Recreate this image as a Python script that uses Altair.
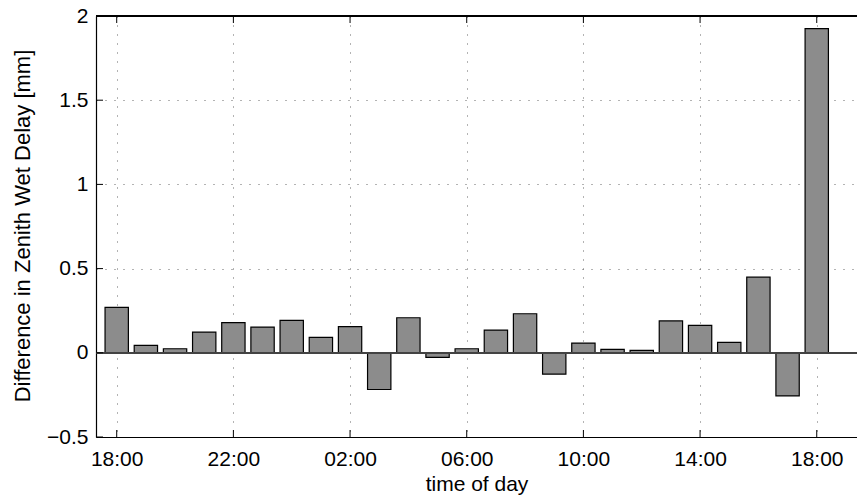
import altair as alt
import pandas as pd

# Hours after 18:00 (0 = 18:00 on day one, 24 = 18:00 the next day)
hours = list(range(25))
zwd_diff = [0.270, 0.044, 0.024, 0.123, 0.179, 0.153, 0.193, 0.092, 0.155,
            -0.218, 0.208, -0.027, 0.024, 0.135, 0.232, -0.127, 0.058, 0.020,
            0.014, 0.189, 0.163, 0.062, 0.449, -0.256, 1.925]
x_ticks = [0, 4, 8, 12, 16, 20, 24]
y_ticks = [-0.5, 0, 0.5, 1, 1.5, 2]

W, H = 761, 421
FONT = "Liberation Sans"

bars_df = pd.DataFrame({"h": hours, "v": zwd_diff})
xt_df = pd.DataFrame({"h": x_ticks})
yt_df = pd.DataFrame({"v": y_ticks})

xscale = alt.Scale(domain=[-0.71, 25.38], nice=False, zero=False)
yscale = alt.Scale(domain=[-0.5, 2], nice=False, zero=False)

label_expr = ("(((18 + datum.value) % 24) < 10 ? '0' : '') + "
              "((18 + datum.value) % 24) + ':00'")

x_axis = alt.Axis(values=x_ticks, labelExpr=label_expr, title="time of day",
                  grid=True, ticks=False, labelPadding=11, titlePadding=4)
y_axis = alt.Axis(values=y_ticks, format="~g",
                  title="Difference in Zenith Wet Delay [mm]", titleFontSize=22,
                  grid=True, ticks=False, labelPadding=8,
                  titleX=-74, titleY=H / 2 - 1, titleBaseline="middle")


def X(field):
    return alt.X(field, type="quantitative", scale=xscale, axis=x_axis)


def Y(field):
    return alt.Y(field, type="quantitative", scale=yscale, axis=y_axis)


zero_line = alt.Chart(bars_df).mark_rule(color="#444444", strokeWidth=1).encode(
    y=alt.datum(0), x=alt.value(0), x2=alt.value(W)
)

bars = alt.Chart(bars_df).transform_calculate(
    x0="datum.h - 0.4", x1="datum.h + 0.4"
).mark_bar(color="#8c8c8c", stroke="black", strokeWidth=1.2).encode(
    x=X("x0"),
    x2="x1:Q",
    y=Y("v"),
    y2=alt.datum(0),
)

top_border = alt.Chart(bars_df).mark_rule(color="black", strokeWidth=1.2).encode(
    y=alt.value(0), x=alt.value(0), x2=alt.value(W)
)

bottom_ticks = alt.Chart(xt_df).mark_rule(color="black", strokeWidth=1).encode(
    x=X("h"), y=alt.value(H), y2=alt.value(H - 7)
)
top_ticks = alt.Chart(xt_df).mark_rule(color="black", strokeWidth=1).encode(
    x=X("h"), y=alt.value(0), y2=alt.value(7)
)
left_ticks = alt.Chart(yt_df).mark_rule(color="black", strokeWidth=1).encode(
    y=Y("v"), x=alt.value(0), x2=alt.value(7)
)

chart = alt.layer(
    bars, zero_line, top_border, bottom_ticks, top_ticks, left_ticks
).properties(
    width=W, height=H, autosize="none",
    padding={"left": 96, "top": 16, "right": 0, "bottom": 58},
    background="white",
).configure_view(stroke=None).configure_axis(
    domainColor="black", domainWidth=1.2,
    gridColor="#666666", gridDash=[1, 8], gridWidth=1,
    labelFont=FONT, labelFontSize=21, labelColor="black",
    titleFont=FONT, titleFontSize=21, titleColor="black", titleFontWeight="normal",
)

chart.save("out.html", embed_options={"renderer": "svg", "actions": False})
